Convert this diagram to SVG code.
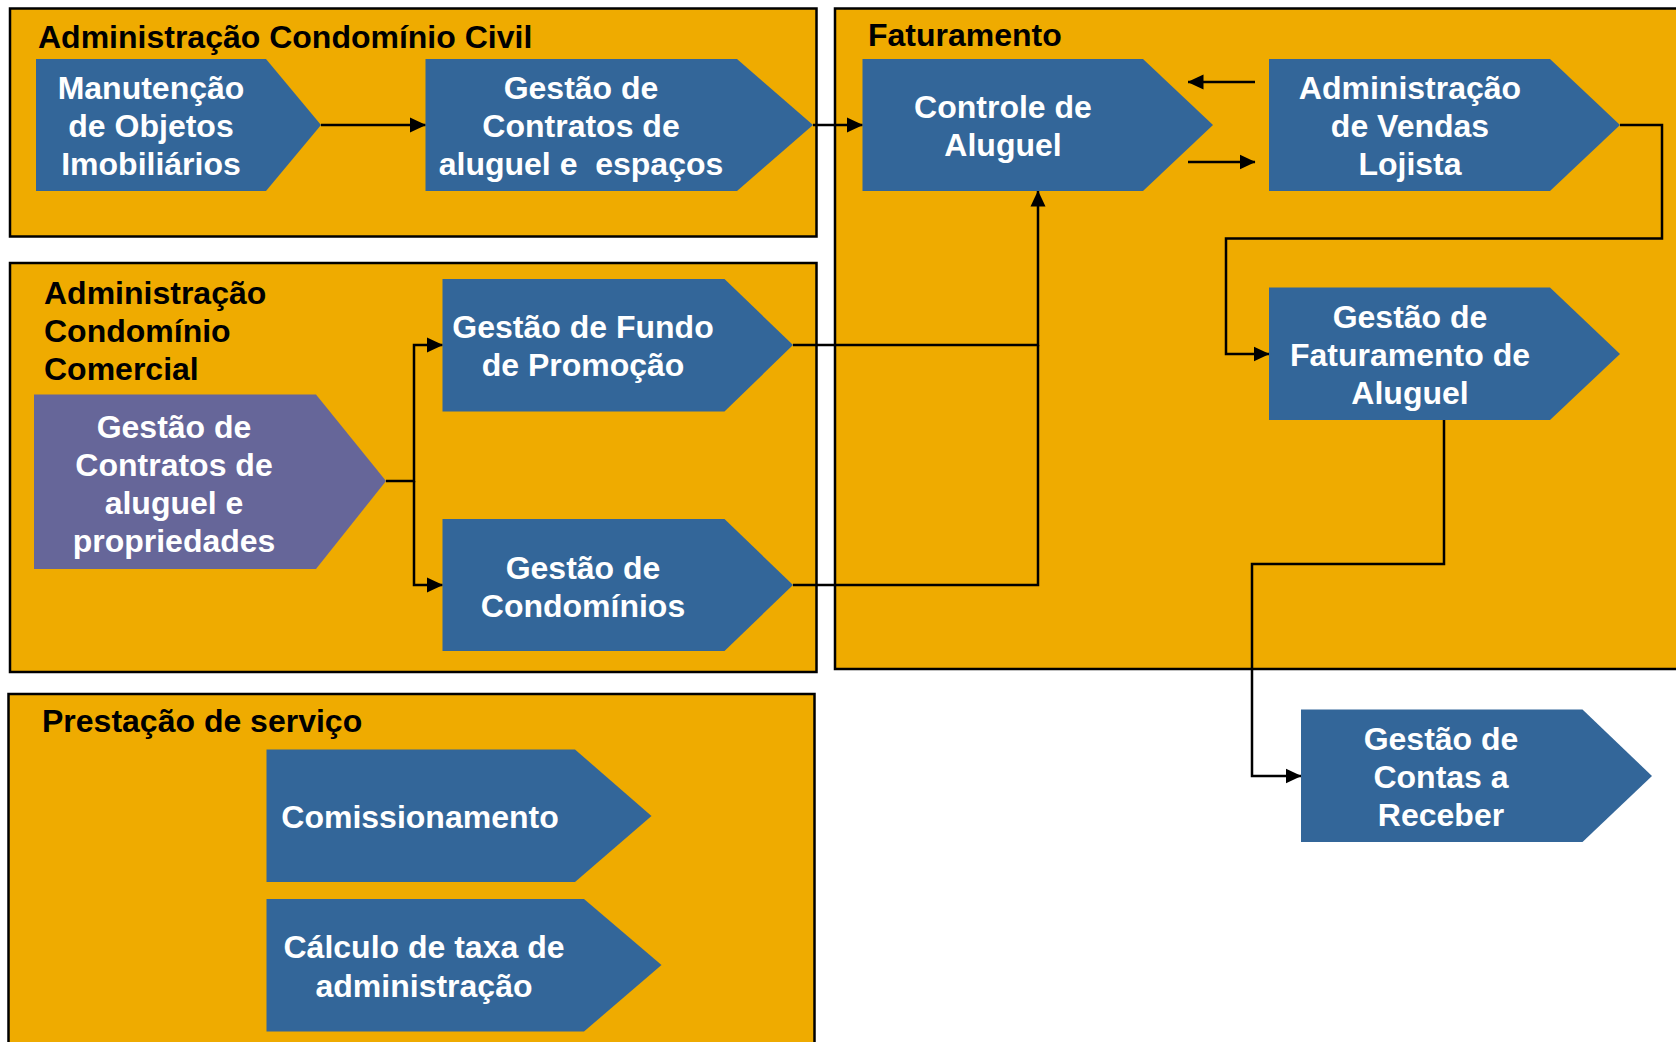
<svg xmlns="http://www.w3.org/2000/svg" width="1676" height="1042" viewBox="0 0 1676 1042">
<style>
.grp{fill:#EFAB00;stroke:#000;stroke-width:2.5}
.title{font-family:"Liberation Sans",Arial,sans-serif;font-weight:bold;font-size:32px;fill:#000}
.node{fill:#336699}
.nodeP{fill:#666699}
.lbl{font-family:"Liberation Sans",Arial,sans-serif;font-weight:bold;font-size:32px;fill:#fff;text-anchor:middle;white-space:pre}
.con{fill:none;stroke:#000;stroke-width:2.5}
</style>
<defs>
<marker id="arr" markerWidth="16" markerHeight="16" refX="15.5" refY="8" orient="auto" markerUnits="userSpaceOnUse">
<path d="M0,0.5 L16,8 L0,15.5 Z" fill="#000"/>
</marker>
</defs>
<rect width="1676" height="1042" fill="#fff"/>
<g id="grp-civil">
<rect class="grp" x="10" y="8.5" width="806.5" height="228"/>
<text class="title" x="38" y="48">Administração Condomínio Civil</text>
</g>
<g id="grp-comercial">
<rect class="grp" x="10" y="263" width="806.5" height="409"/>
<text class="title" x="44" y="304">Administração</text>
<text class="title" x="44" y="342">Condomínio</text>
<text class="title" x="44" y="380">Comercial</text>
</g>
<g id="grp-prestacao">
<rect class="grp" x="8.5" y="694" width="806" height="360"/>
<text class="title" x="42" y="732">Prestação de serviço</text>
</g>
<g id="grp-faturamento">
<rect class="grp" x="835" y="8.5" width="860" height="660.5"/>
<text class="title" x="868" y="46">Faturamento</text>
</g>
<g id="connectors">
<path class="con" d="M321,125 H425.5" marker-end="url(#arr)"/>
<path class="con" d="M813,125 H862.5" marker-end="url(#arr)"/>
<path class="con" d="M1255,82 H1188" marker-end="url(#arr)"/>
<path class="con" d="M1188,162 H1255" marker-end="url(#arr)"/>
<path class="con" d="M1620,125 H1662 V238.5 H1226 V354 H1269" marker-end="url(#arr)"/>
<path class="con" d="M793,345 H1038 V191" marker-end="url(#arr)"/>
<path class="con" d="M793,585 H1038 V345"/>
<path class="con" d="M386,481 H414 V345 H442.5" marker-end="url(#arr)"/>
<path class="con" d="M414,481 V585 H442.5" marker-end="url(#arr)"/>
<path class="con" d="M1444,420 V564 H1252 V776 H1301" marker-end="url(#arr)"/>
</g>
<g id="n-manutencao">
<polygon class="node" points="36,59 266,59 321,125 266,191 36,191"/>
<text class="lbl" x="151" y="99">Manutenção</text>
<text class="lbl" x="151" y="137">de Objetos</text>
<text class="lbl" x="151" y="175">Imobiliários</text>
</g>
<g id="n-contratos-civil">
<polygon class="node" points="425.5,59 737,59 813,125 737,191 425.5,191"/>
<text class="lbl" x="581" y="99">Gestão de</text>
<text class="lbl" x="581" y="137">Contratos de</text>
<text class="lbl" x="581" y="175">aluguel e  espaços</text>
</g>
<g id="n-controle">
<polygon class="node" points="862.5,59 1143,59 1213,125 1143,191 862.5,191"/>
<text class="lbl" x="1003" y="118">Controle de</text>
<text class="lbl" x="1003" y="156">Aluguel</text>
</g>
<g id="n-vendas">
<polygon class="node" points="1269,59 1550,59 1620,125 1550,191 1269,191"/>
<text class="lbl" x="1410" y="99">Administração</text>
<text class="lbl" x="1410" y="137">de Vendas</text>
<text class="lbl" x="1410" y="175">Lojista</text>
</g>
<g id="n-faturamento-aluguel">
<polygon class="node" points="1269,287.5 1550,287.5 1620,354 1550,420 1269,420"/>
<text class="lbl" x="1410" y="328">Gestão de</text>
<text class="lbl" x="1410" y="366">Faturamento de</text>
<text class="lbl" x="1410" y="404">Aluguel</text>
</g>
<g id="n-contas-receber">
<polygon class="node" points="1301,709.5 1582.5,709.5 1652,776 1582.5,842 1301,842"/>
<text class="lbl" x="1441" y="750">Gestão de</text>
<text class="lbl" x="1441" y="788">Contas a</text>
<text class="lbl" x="1441" y="826">Receber</text>
</g>
<g id="n-fundo">
<polygon class="node" points="442.5,279 724.5,279 793,345 724.5,411.5 442.5,411.5"/>
<text class="lbl" x="583" y="338">Gestão de Fundo</text>
<text class="lbl" x="583" y="376">de Promoção</text>
</g>
<g id="n-condominios">
<polygon class="node" points="442.5,519 724.5,519 793,585 724.5,651 442.5,651"/>
<text class="lbl" x="583" y="579">Gestão de</text>
<text class="lbl" x="583" y="617">Condomínios</text>
</g>
<g id="n-contratos-comercial">
<polygon class="nodeP" points="34,394.5 316,394.5 386,481 316,569 34,569"/>
<text class="lbl" x="174" y="438">Gestão de</text>
<text class="lbl" x="174" y="476">Contratos de</text>
<text class="lbl" x="174" y="514">aluguel e</text>
<text class="lbl" x="174" y="552">propriedades</text>
</g>
<g id="n-comissionamento">
<polygon class="node" points="266.5,749.5 575,749.5 651.5,816 575,882 266.5,882"/>
<text class="lbl" x="420" y="828">Comissionamento</text>
</g>
<g id="n-calculo">
<polygon class="node" points="266.5,899 584,899 661.5,965 584,1031.5 266.5,1031.5"/>
<text class="lbl" x="424" y="958">Cálculo de taxa de</text>
<text class="lbl" x="424" y="997">administração</text>
</g>
</svg>
